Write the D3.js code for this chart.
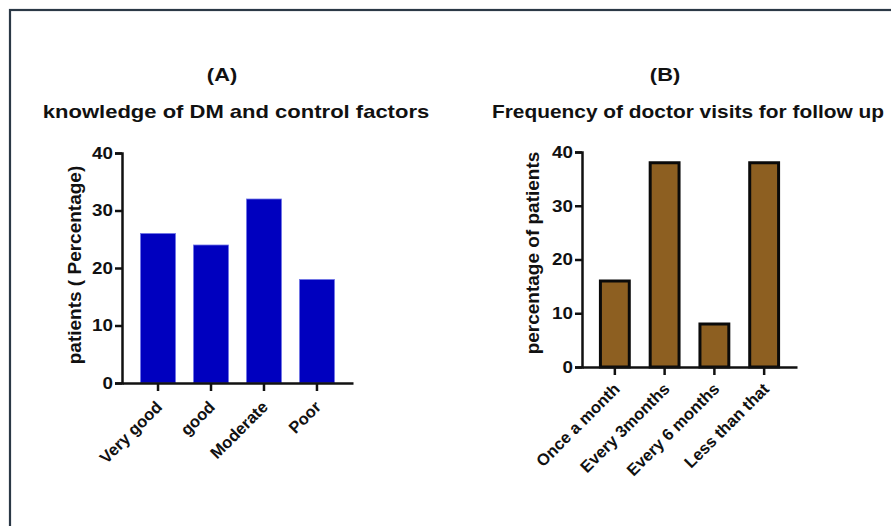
<!DOCTYPE html>
<html>
<head>
<meta charset="utf-8">
<script src="https://cdn.jsdelivr.net/npm/d3@7"></script>
<style>
  html, body { margin: 0; padding: 0; background: #fff; }
  svg { display: block; font-family: "Liberation Sans", Arial, sans-serif; }
</style>
</head>
<body>
<svg id="chart" width="891" height="526"></svg>
<script>
// Panel A: knowledge of DM and control factors
const knowledgeCategories = ["Very good", "good", "Moderate", "Poor"];
const knowledgeValues = [26, 24, 32, 18];

// Panel B: frequency of doctor visits
const visitCategories = ["Once a month", "Every 3months", "Every 6 months", "Less than that"];
const visitValues = [16, 38, 8, 38];

const yTicks = [0, 10, 20, 30, 40];

// horizontal widening applied to upright text
const TEXT_SX = 1.14;

const svg = d3.select("#chart");

// outer frame
svg.append("rect")
  .attr("x", 10).attr("y", 10)
  .attr("width", 900).attr("height", 540)
  .attr("fill", "none")
  .attr("stroke", "#2b3846")
  .attr("stroke-width", 2.2);

function panel(opts) {
  const g = svg.append("g");
  const x = d3.scaleBand()
    .domain(opts.categories)
    .range([opts.x0, opts.x1])
    .paddingInner(opts.padInner)
    .paddingOuter(opts.padOuter);
  const y = d3.scaleLinear().domain([0, 40]).range([opts.y0, opts.y1]);

  // bars
  g.selectAll("rect.bar")
    .data(opts.values)
    .join("rect")
    .attr("class", "bar")
    .attr("x", (d, i) => x(opts.categories[i]))
    .attr("width", x.bandwidth())
    .attr("y", d => y(d))
    .attr("height", d => y(0) - y(d))
    .attr("fill", opts.fill)
    .attr("stroke", opts.stroke)
    .attr("stroke-width", opts.strokeWidth);

  // y axis
  const yAxis = d3.axisLeft(y).tickValues(yTicks).tickSize(7).tickPadding(2);
  const ya = g.append("g")
    .attr("transform", `translate(${opts.x0},0)`)
    .call(yAxis);
  ya.select(".domain").attr("stroke", "#111").attr("stroke-width", 2.5);
  ya.selectAll(".tick line").attr("stroke", "#111").attr("stroke-width", 2.5);
  ya.selectAll(".tick text")
    .attr("fill", "#111")
    .attr("x", -9 / TEXT_SX)
    .attr("transform", `scale(${TEXT_SX},1)`)
    .style("font-size", "16.5px")
    .style("font-weight", "bold");

  // x axis
  const xAxis = d3.axisBottom(x).tickSize(8).tickSizeOuter(0).tickPadding(4);
  const xa = g.append("g")
    .attr("transform", `translate(0,${opts.y0})`)
    .call(xAxis);
  xa.select(".domain").attr("stroke", "#111").attr("stroke-width", 2.5);
  xa.selectAll(".tick line").attr("stroke", "#111").attr("stroke-width", 2.5);
  xa.selectAll(".tick text")
    .attr("fill", "#111")
    .attr("text-anchor", "end")
    .attr("dy", null)
    .attr("y", 0)
    .attr("transform", `translate(${opts.labelDx},${opts.labelDy}) rotate(-45)`)
    .style("font-size", "16.5px")
    .style("font-weight", "bold");

  // y axis title
  g.append("text")
    .attr("transform", `translate(${opts.yLabelX},${opts.yLabelY}) rotate(-90)`)
    .attr("text-anchor", "middle")
    .attr("fill", "#111")
    .style("font-size", "19px")
    .style("font-weight", "bold")
    .text(opts.yLabel);

  // panel letter and title
  g.append("text")
    .attr("transform", `translate(${opts.letterX},81) scale(${TEXT_SX + 0.04},1)`)
    .attr("text-anchor", "middle")
    .attr("fill", "#111")
    .style("font-size", "18.5px")
    .style("font-weight", "bold")
    .text(opts.letter);
  g.append("text")
    .attr("transform", `translate(${opts.titleX},118) scale(${opts.titleSx},1)`)
    .attr("text-anchor", "middle")
    .attr("fill", "#111")
    .style("font-size", "18.5px")
    .style("font-weight", "bold")
    .text(opts.title);
}

panel({
  categories: knowledgeCategories,
  values: knowledgeValues,
  x0: 122, x1: 353, y0: 383, y1: 153,
  padInner: 0.34, padOuter: 0.35,
  fill: "#0000bf", stroke: "#6f74e6", strokeWidth: 0.8,
  labelDx: 5, labelDy: 25,
  yLabel: "patients ( Percentage)", yLabelX: 81, yLabelY: 265,
  letter: "(A)", letterX: 222,
  title: "knowledge of DM and control factors", titleX: 236, titleSx: 1.19
});

panel({
  categories: visitCategories,
  values: visitValues,
  x0: 582, x1: 797, y0: 367, y1: 152,
  padInner: 0.42, padOuter: 0.37,
  fill: "#8d5f21", stroke: "#0a0a0a", strokeWidth: 3,
  labelDx: 6, labelDy: 23,
  yLabel: "percentage of patients", yLabelX: 539, yLabelY: 253,
  letter: "(B)", letterX: 665,
  title: "Frequency of doctor visits for follow up", titleX: 688, titleSx: 1.13
});
</script>
</body>
</html>
